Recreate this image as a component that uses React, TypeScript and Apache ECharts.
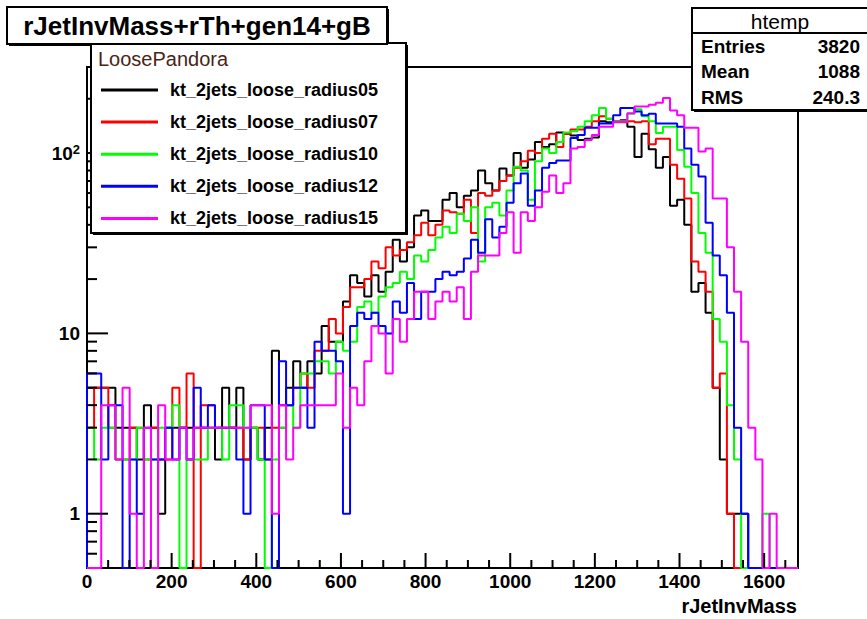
import React, { useEffect, useRef } from "react";
import * as echarts from "echarts";

// ---- axis ranges / binning ----
const xMin = 0;
const xMax = 1680;
const binWidth = 16.8;
const yMin = 0.5;
const yMax = 300;

// ---- labels ----
const chartTitle = "rJetInvMass+rTh+gen14+gB";
const xAxisTitle = "rJetInvMass";
const legendHeader = "LoosePandora";
const seriesNames = [
  "kt_2jets_loose_radius05",
  "kt_2jets_loose_radius07",
  "kt_2jets_loose_radius10",
  "kt_2jets_loose_radius12",
  "kt_2jets_loose_radius15",
];
const seriesColors = ["#000000", "#ff0000", "#00ff00", "#0000ff", "#ff00ff"];
const statsTitle = "htemp";
const statsLabels = ["Entries", "Mean", "RMS"];
const statsValues = ["3820", "1088", "240.3"];

// ---- tick values ----
const xMajorTicks = [200, 400, 600, 800, 1000, 1200, 1400, 1600];
const xMinorTicks = [50, 100, 150, 250, 300, 350, 450, 500, 550, 650, 700, 750, 850, 900, 950, 1050, 1100, 1150, 1250, 1300, 1350, 1450, 1500, 1550, 1650];
const yMajorTicks = [1, 10, 100];
const yMajorExponents = [0, 1, 2];
const yMinorTicks = [0.6, 0.7, 0.8, 0.9, 2, 3, 4, 5, 6, 7, 8, 9, 20, 30, 40, 50, 60, 70, 80, 90, 200];

// ---- histogram bin contents (100 bins, 0..1680) ----
const radius05 = [
  5, 5, 5, 5, 3, 3, 3, 2, 4, 3, 1, 3, 3, 3, 3, 3, 3, 3, 2, 5, 3, 5, 2, 3, 2, 3, 8, 4,
  5, 7, 5, 7, 6, 11, 9, 9,
  15, 21, 19, 16, 21, 17, 22, 33, 25, 30, 45, 48, 42, 42, 55, 60, 50, 58, 62, 80,
  68, 62, 82, 75, 100, 83, 92, 115, 108, 112, 130, 128, 125, 118, 120, 122, 150, 148, 150, 152, 140, 95, 128, 105, 83, 95, 51, 55, 40, 17, 19, 13, 5, 2,
  1, 1, 1, 0, 0, 0, 0, 0, 0, 0,
];
const radius07 = [
  3, 5, 5, 3, 2, 2, 3, 3, 2, 3, 2, 2, 5, 3, 6, 0, 4, 4, 3, 3, 3, 3, 2, 3, 3, 2, 3, 3,
  4, 5, 6, 5, 8, 8, 12, 10,
  14, 18, 18, 20, 25, 23, 30, 27, 29, 32, 35, 41, 35, 40, 48, 47, 46, 55, 36, 60,
  58, 62, 70, 75, 83, 90, 103, 100, 120, 128, 108, 128, 135, 135, 140, 150, 160, 155, 148, 148, 150, 148, 150, 112, 120, 120, 86, 72, 56, 25, 22, 17, 5, 6,
  1, 0, 0, 0, 0, 0, 0, 0, 0, 0,
];
const radius10 = [
  3, 2, 3, 3, 2, 2, 2, 3, 2, 2, 3, 3, 4, 0, 2, 2, 2, 3, 3, 2, 4, 4, 3, 3, 2, 0, 2, 3,
  4, 3, 6, 6, 7, 7, 6, 9,
  8, 9, 14, 15, 13, 16, 18, 19, 22, 20, 27, 25, 29, 34, 39, 36, 46, 42, 50, 25,
  50, 53, 45, 62, 84, 80, 55, 90, 106, 100, 115, 130, 132, 140, 150, 162, 178, 155, 150, 150, 165, 175, 160, 150, 129, 140, 140, 104, 84, 60, 36, 28, 12, 9,
  4, 2, 0, 0, 0, 1, 0, 0, 0, 0,
];
const radius12 = [
  6, 6, 2, 4, 4, 0, 2, 1, 3, 2, 2, 3, 2, 3, 2, 5, 3, 4, 3, 3, 3, 2, 1, 4, 4, 2, 0, 7,
  4, 5, 5, 3, 9, 8, 8, 7,
  1, 11, 13, 12, 13, 11, 10, 15, 13, 19, 12, 17, 17, 20, 22, 21, 22, 26, 33, 28,
  43, 34, 39, 53, 68, 77, 51, 62, 83, 88, 91, 91, 121, 126, 138, 138, 146, 146, 162, 178, 178, 170, 162, 165, 146, 146, 146, 140, 106, 86, 74, 41, 27, 21,
  13, 3, 1, 0, 0, 0, 0, 0, 0, 0,
];
const radius15 = [
  0, 0, 4, 4, 2, 5, 1, 0, 3, 0, 4, 2, 2, 3, 2, 3, 3, 3, 3, 3, 3, 3, 3, 4, 4, 4, 1, 4,
  2, 3, 4, 4, 4, 4, 4, 6,
  3, 5, 4, 7, 11, 10, 6, 12, 9, 12, 17, 17, 12, 15, 17, 15, 18, 12, 22, 27,
  27, 27, 36, 47, 28, 47, 42, 50, 61, 75, 60, 68, 106, 108, 118, 126, 140, 140, 149, 149, 166, 181, 181, 185, 190, 202, 172, 162, 138, 138, 102, 106, 56, 56,
  30, 17, 9, 3, 2, 0, 1, 0, 0, 0,
];
const seriesCounts = [radius05, radius07, radius10, radius12, radius15];

const FONT = '"Liberation Sans", Arial, Helvetica, sans-serif';

function histPoints(counts: number[]): number[][] {
  const pts: number[][] = [[xMin, yMin]];
  counts.forEach((c, i) => pts.push([xMin + i * binWidth, c > 0 ? c : yMin]));
  const last = counts[counts.length - 1];
  pts.push([xMin + counts.length * binWidth, last > 0 ? last : yMin]);
  pts.push([xMin + counts.length * binWidth, yMin]);
  return pts;
}

function boxWithShadow(x: number, y: number, w: number, h: number, sh: number) {
  return [
    { type: "rect", z: 100, shape: { x: x + sh, y: y + sh, width: w, height: h }, style: { fill: "#000" } },
    { type: "rect", z: 101, shape: { x, y, width: w, height: h }, style: { fill: "#fff", stroke: "#000", lineWidth: 2 } },
  ];
}

export default function App() {
  const ref = useRef<HTMLDivElement>(null);
  useEffect(() => {
    if (!ref.current) return;
    const chart = echarts.init(ref.current, undefined, { renderer: "svg" });

    const histSeries = seriesCounts.map((counts, i) => ({
      type: "line",
      name: seriesNames[i],
      step: "end",
      symbol: "none",
      clip: true,
      data: histPoints(counts),
      lineStyle: { color: seriesColors[i], width: 2 },
      itemStyle: { color: seriesColors[i] },
      z: 2 + i * 0.01,
      animation: false,
    }));

    const xTickData = xMajorTicks.map((v) => [v, yMin, 15]).concat(xMinorTicks.map((v) => [v, yMin, 8]));
    const yTickData = yMajorTicks.map((v) => [xMin, v, 21]).concat(yMinorTicks.map((v) => [xMin, v, 10]));

    const tickSeries = [
      {
        type: "custom",
        coordinateSystem: "cartesian2d",
        silent: true,
        clip: false,
        z: 5,
        data: xTickData,
        renderItem: (_p: any, api: any) => {
          const p = api.coord([api.value(0), api.value(1)]);
          const len = api.value(2);
          return { type: "line", shape: { x1: p[0], y1: p[1], x2: p[0], y2: p[1] - len }, style: { stroke: "#000", lineWidth: 2 } };
        },
      },
      {
        type: "custom",
        coordinateSystem: "cartesian2d",
        silent: true,
        clip: false,
        z: 5,
        data: yTickData,
        renderItem: (_p: any, api: any) => {
          const p = api.coord([api.value(0), api.value(1)]);
          const len = api.value(2);
          return { type: "line", shape: { x1: p[0], y1: p[1], x2: p[0] + len, y2: p[1] }, style: { stroke: "#000", lineWidth: 2 } };
        },
      },
    ];

    // legend graphics
    const legendX = 91, legendY = 43, legendW = 315, legendH = 190;
    const entryY0 = 90, entryStep = 32.1;
    const legendGraphics: any[] = [
      ...boxWithShadow(legendX, legendY, legendW, legendH, 2),
      {
        type: "text", z: 102, x: 98, y: 59,
        style: { text: legendHeader, fill: "#4a2416", fontSize: 20, fontFamily: FONT, textAlign: "left", textVerticalAlign: "middle" },
      },
    ];
    seriesNames.forEach((name, i) => {
      const yy = entryY0 + i * entryStep;
      legendGraphics.push({
        type: "line", z: 102,
        shape: { x1: 101, y1: yy, x2: 158, y2: yy },
        style: { stroke: seriesColors[i], lineWidth: 3 },
      });
      legendGraphics.push({
        type: "text", z: 102, x: 170, y: yy,
        style: { text: name, fill: "#000", fontSize: 18, fontWeight: "bold", fontFamily: FONT, textAlign: "left", textVerticalAlign: "middle" },
      });
    });

    // stats box
    const statsGraphics: any[] = [
      ...boxWithShadow(692, 8, 200, 102, 2),
      { type: "line", z: 102, shape: { x1: 692, y1: 33, x2: 867, y2: 33 }, style: { stroke: "#000", lineWidth: 2 } },
      {
        type: "text", z: 102, x: 780, y: 21,
        style: { text: statsTitle, fill: "#000", fontSize: 21, fontFamily: FONT, textAlign: "center", textVerticalAlign: "middle" },
      },
    ];
    statsLabels.forEach((lab, i) => {
      const yy = 46 + i * 25.5;
      statsGraphics.push({
        type: "text", z: 102, x: 701, y: yy,
        style: { text: lab, fill: "#000", fontSize: 19, fontWeight: "bold", fontFamily: FONT, textAlign: "left", textVerticalAlign: "middle" },
      });
      statsGraphics.push({
        type: "text", z: 102, x: 860, y: yy,
        style: { text: statsValues[i], fill: "#000", fontSize: 19, fontWeight: "bold", fontFamily: FONT, textAlign: "right", textVerticalAlign: "middle" },
      });
    });

    const titleGraphics: any[] = [
      ...boxWithShadow(7, 7, 380, 37, 2),
      {
        type: "text", z: 102, x: 197, y: 26,
        style: { text: chartTitle, fill: "#000", fontSize: 26, fontWeight: "bold", fontFamily: FONT, textAlign: "center", textVerticalAlign: "middle" },
      },
    ];

    const axisTitleGraphic = {
      type: "text", z: 102, x: 797, y: 606,
      style: { text: xAxisTitle, fill: "#000", fontSize: 20, fontWeight: "bold", fontFamily: FONT, textAlign: "right", textVerticalAlign: "middle" },
    };

    chart.setOption({
      animation: false,
      backgroundColor: "#ffffff",
      grid: { left: 87, top: 67, width: 711, height: 501, show: true, borderColor: "#000", borderWidth: 2, backgroundColor: "transparent" },
      xAxis: {
        type: "value",
        min: xMin,
        max: xMax,
        interval: 200,
        axisLine: { show: true, onZero: false, lineStyle: { color: "#000", width: 2 } },
        axisTick: { show: false },
        splitLine: { show: false },
        axisLabel: {
          show: true,
          margin: 4,
          showMaxLabel: false,
          color: "#000",
          fontSize: 19,
          fontWeight: "bold",
          fontFamily: FONT,
          formatter: (v: number) => (xMajorTicks.includes(v) || v === xMin ? String(v) : ""),
        },
      },
      yAxis: {
        type: "log",
        logBase: 10,
        min: yMin,
        max: yMax,
        axisLine: { show: true, lineStyle: { color: "#000", width: 2 } },
        axisTick: { show: false },
        splitLine: { show: false },
        axisLabel: {
          margin: 7,
          formatter: (v: number) => {
            const idx = yMajorTicks.findIndex((t) => Math.abs(Math.log10(v) - Math.log10(t)) < 1e-6);
            if (idx < 0) return "";
            const e = yMajorExponents[idx];
            if (e === 0) return "{b|1}";
            if (e === 1) return "{b|10}";
            return "{b|10}{s|" + e + "}";
          },
          rich: {
            b: { fontSize: 19, fontWeight: "bold", fontFamily: FONT, color: "#000", lineHeight: 20 },
            s: { fontSize: 13, fontWeight: "bold", fontFamily: FONT, color: "#000", lineHeight: 12, verticalAlign: "top" },
          },
        },
      },
      series: [...histSeries, ...tickSeries],
      graphic: { elements: [...legendGraphics, ...statsGraphics, ...titleGraphics, axisTitleGraphic] },
    });

    return () => chart.dispose();
  }, []);

  return (
    <div
      ref={ref}
      style={{ position: "absolute", left: 0, top: 0, width: 867, height: 619, background: "#fff" }}
    />
  );
}
